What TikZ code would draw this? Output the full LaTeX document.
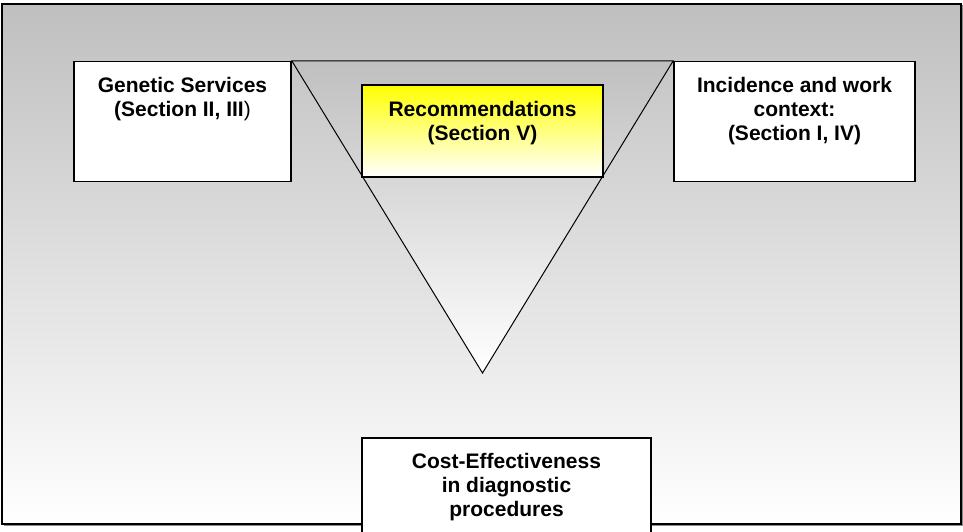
\documentclass[tikz,border=0pt]{standalone}
\usepackage{fontspec}
\setmainfont{Liberation Sans}
\begin{document}
\begin{tikzpicture}[x=1pt,y=-1pt,
  box/.style={draw=black, line width=1.5pt, fill=white, inner sep=0pt, rectangle},
  lbl/.style={font=\bfseries\fontsize{21}{24}\selectfont, align=center, inner sep=0pt, anchor=north},
  frame/.style={top color=black!25, bottom color=white, draw=black, line width=1.5pt},
  tri/.style={top color=black!25, bottom color=white, draw=black, line width=1pt},
]
\useasboundingbox (0,0) rectangle (963,531);
\clip (0,0) rectangle (963,531);
% background frame with slight shadow
\draw[black!45, line width=1pt] (4,525.5) -- (962.5,525.5) -- (962.5,5);
\shade[frame] (2,4) rectangle (961,524);
% side boxes
\node[box, minimum width=217pt, minimum height=120pt] (gs) at (182.5,121.5) {};
\node[box, minimum width=241pt, minimum height=120pt] (inc) at (794.5,121.5) {};
% funnel triangle
\coordinate (apex) at (482.5,373);
\shade[tri] (gs.north east) -- (inc.north west) -- (apex) -- cycle;
% recommendations box
\node[draw=black, line width=1.5pt, top color=yellow, bottom color=white, inner sep=0pt,
      minimum width=241pt, minimum height=92pt] (rec) at (482.5,131) {};
% bottom box
\node[box, minimum width=289pt, minimum height=122pt] (cost) at (506.5,499) {};
% labels
\node[lbl] (gsT) at (182.5,77) {Genetic Services\\(Section II, III{\mdseries )}};
\node[lbl] (recT) at (482.5,101) {Recommendations\\(Section V)};
\node[lbl] (incT) at (794.5,77) {Incidence and work\\context:\\(Section I, IV)};
\node[lbl] (costT) at (506.5,453) {Cost-Effectiveness\\in diagnostic\\procedures};
\end{tikzpicture}
\end{document}
